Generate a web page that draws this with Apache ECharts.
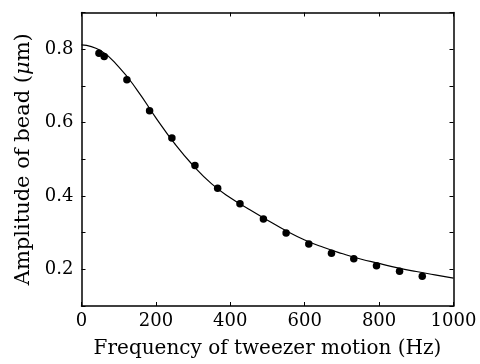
<!DOCTYPE html>
<html>
<head>
<meta charset="utf-8">
<script src="https://cdn.jsdelivr.net/npm/echarts@6/dist/echarts.min.js"></script>
<style>
  html, body { margin: 0; padding: 0; background: #fff; }
  #chart { width: 480px; height: 364px; }
</style>
</head>
<body>
<div id="chart"></div>
<script>
// measured points (Hz, um)
const freqs = [47, 61, 122, 183, 243, 305, 366, 426, 489, 550, 611, 672, 732, 793, 855, 916]
const amps = [0.789, 0.780, 0.717, 0.632, 0.558, 0.483, 0.421, 0.379, 0.337, 0.299, 0.269, 0.244, 0.229, 0.210, 0.195, 0.181]

// fitted curve
const fitFreqs = [0, 50, 100, 150, 200, 250, 300, 350, 400, 450, 500, 550, 600, 650, 700, 750, 800, 850, 900, 950, 1000]
const fitAmps = [0.812, 0.797, 0.752, 0.688, 0.613, 0.543, 0.483, 0.433, 0.395, 0.364, 0.334, 0.305, 0.280, 0.260, 0.243, 0.228, 0.216, 0.204, 0.194, 0.185, 0.176]

const yLabels = ['0.2', '0.4', '0.6', '0.8']

const font = 'DejaVu Serif'
const chart = echarts.init(document.getElementById('chart'), null, { renderer: 'canvas' })

const lineStyle = { color: '#000', width: 1.5 }
const tick = { show: true, inside: true, length: 4, lineStyle: { color: '#000', width: 1 } }

chart.setOption({
  animation: false,
  backgroundColor: '#fff',
  grid: { left: 81.5, right: 26.5, top: 12.5, bottom: 58 },
  xAxis: [
    {
      type: 'value',
      min: 0,
      max: 1000,
      interval: 200,
      name: 'Frequency of tweezer motion (Hz)',
      nameLocation: 'middle',
      nameGap: 33,
      nameTextStyle: { fontFamily: font, fontSize: 20, color: '#000' },
      axisLine: { show: true, onZero: false, lineStyle },
      axisTick: tick,
      axisLabel: { fontFamily: font, fontSize: 18, color: '#000', margin: 6, formatter: v => String(v) },
      splitLine: { show: false }
    },
    {
      type: 'value',
      position: 'top',
      min: 0,
      max: 1000,
      interval: 200,
      axisLine: { show: true, onZero: false, lineStyle },
      axisTick: tick,
      axisLabel: { show: false },
      splitLine: { show: false }
    }
  ],
  yAxis: [
    {
      type: 'value',
      min: 0.1,
      max: 0.9,
      interval: 0.1,
      name: '{a|Amplitude of bead (}{i|μ}{a|m)}',
      nameLocation: 'middle',
      nameGap: 46,
      nameTextStyle: {
        rich: {
          a: { fontFamily: font, fontSize: 21, color: '#000' },
          i: { fontFamily: font, fontSize: 21, color: '#000', fontStyle: 'italic' }
        }
      },
      axisLine: { show: true, onZero: false, lineStyle },
      axisTick: tick,
      axisLabel: {
        fontFamily: font,
        fontSize: 18,
        color: '#000',
        margin: 8,
        formatter: v => {
          const s = v.toFixed(1)
          return yLabels.includes(s) ? s : ''
        }
      },
      splitLine: { show: false }
    },
    {
      type: 'value',
      position: 'right',
      min: 0.1,
      max: 0.9,
      interval: 0.1,
      axisLine: { show: true, onZero: false, lineStyle },
      axisTick: tick,
      axisLabel: { show: false },
      splitLine: { show: false }
    }
  ],
  series: [
    {
      name: 'fit',
      type: 'line',
      smooth: true,
      showSymbol: false,
      data: fitFreqs.map((f, i) => [f, fitAmps[i]]),
      lineStyle: { color: '#000', width: 1.2 },
      z: 2
    },
    {
      name: 'data',
      type: 'scatter',
      symbol: 'circle',
      symbolSize: 7.5,
      data: freqs.map((f, i) => [f, amps[i]]),
      itemStyle: { color: '#000', opacity: 1 },
      z: 3
    }
  ]
})
</script>
</body>
</html>
